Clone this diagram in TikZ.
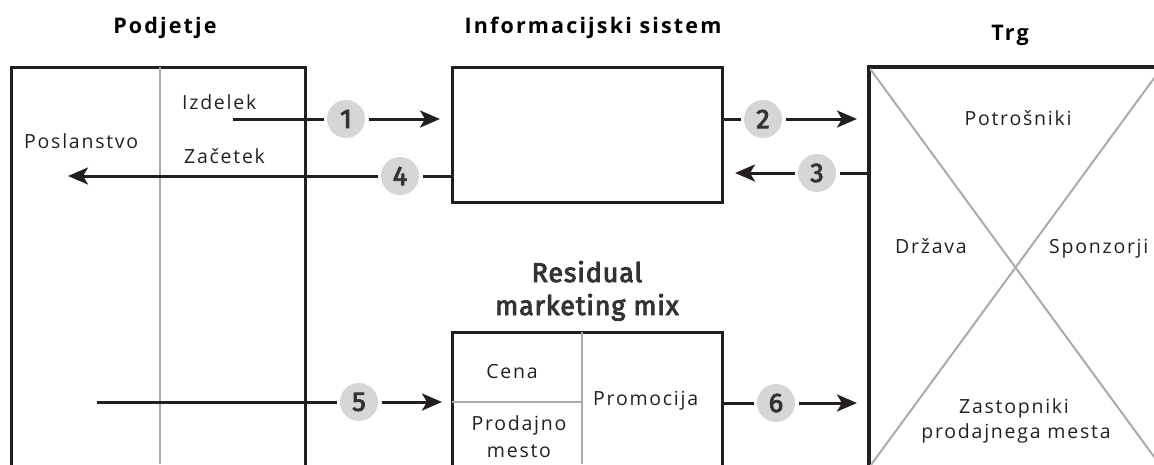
\documentclass[tikz,border=0pt]{standalone}
\usepackage{fontspec}
\usetikzlibrary{arrows.meta}
\newfontfamily\lblfont{Open Sans}[LetterSpace=9]
\newfontfamily\ttlfont{Open Sans}[LetterSpace=10]
\newfontfamily\firamed{Fira Sans}[FakeBold=3.2, LetterSpace=3]
\definecolor{ink}{HTML}{231F20}
\definecolor{divgray}{HTML}{ABABAB}
\definecolor{dotgray}{HTML}{D6D6D6}
\definecolor{numink}{HTML}{333333}
\tikzset{
  box/.style={draw=ink, line width=3pt, inner sep=0pt, anchor=north west},
  divider/.style={draw=divgray, line width=2pt},
  conn/.style={draw=ink, line width=3pt},
  arr/.style={conn, -{Stealth[length=20pt, width=17pt, inset=5pt]}},
  num/.style={circle, fill=dotgray, minimum size=38pt, inner sep=0pt, outer sep=3.5pt,
              text=numink, font=\firamed\fontsize{27}{27}\selectfont},
  lbl/.style={inner sep=0pt, text=ink, font=\lblfont\fontsize{19.5}{19.5}\selectfont},
  ttl/.style={inner sep=0pt, text=black, font=\ttlfont\bfseries\fontsize{21.5}{21.5}\selectfont},
  rmmttl/.style={inner sep=0pt, text=numink, font=\firamed\fontsize{27}{27}\selectfont},
}
\begin{document}
\begin{tikzpicture}[x=1pt, y=-1pt]
\useasboundingbox (0,0) rectangle (1154,464);
\clip (0,0) rectangle (1154,464);

% main blocks
\node[box, minimum width=294pt, minimum height=420pt] (podj) at (10,66) {};
\node[box, minimum width=270pt, minimum height=135pt] (info) at (451,66) {};
\node[box, minimum width=292pt, minimum height=400pt] (trg)  at (868,66) {};
\node[box, minimum width=270pt, minimum height=160pt] (rmm)  at (451,331) {};

% inner dividers
\draw[divider] (160,67) -- (160,464);
\draw[divider] (582,332) -- (582,464);
\draw[divider] (452,402) -- (582,402);
\draw[divider] (trg.north west) -- (trg.south east);
\draw[divider] (trg.north east) -- (trg.south west);
\draw[box] (trg.north west) rectangle (trg.south east);

% titles
\node[ttl, anchor=base] (tpodj) at (165,33) {Podjetje};
\node[ttl, anchor=base] (tinfo) at (593,33) {Informacijski sistem};
\node[ttl, anchor=base] (ttrg)  at (1010,40) {Trg};
\node[rmmttl, anchor=base] (trmm1) at (587,282) {Residual};
\node[rmmttl, anchor=base] (trmm2) at (587,315) {marketing mix};

% labels
\node[lbl, anchor=base west] (izd) at (182,109) {Izdelek};
\node[lbl, anchor=base west] (posl) at (24,148) {Poslanstvo};
\node[lbl, anchor=base west] (zac) at (184,163) {Začetek};
\node[lbl, anchor=base] (potr) at (1018,125) {Potrošniki};
\node[lbl, anchor=base west] (drz) at (895,253) {Država};
\node[lbl, anchor=base west] (spon) at (1049,253) {Sponzorji};
\node[lbl, anchor=base] (zast1) at (1014,413) {Zastopniki};
\node[lbl, anchor=base] (zast2) at (1016,438) {prodajnega mesta};
\node[lbl, anchor=base] (cena) at (512,378) {Cena};
\node[lbl, anchor=base] (prod1) at (519,430) {Prodajno};
\node[lbl, anchor=base] (prod2) at (519,457) {mesto};
\node[lbl, anchor=base west] (prom) at (593,405) {Promocija};

% numbered flows
\coordinate (e1) at (233,119);
\node[num] (n1) at (346,119) {1};
\draw[conn] (e1) -- (n1);
\draw[arr, shorten >=11pt] (n1) -- (info.west |- n1);

\node[num] (n2) at (763,119) {2};
\draw[conn] (info.east |- n2) -- (n2);
\draw[arr, shorten >=11pt] (n2) -- (trg.west |- n2);

\node[num] (n3) at (817,173) {3};
\draw[conn] (trg.west |- n3) -- (n3);
\draw[arr, shorten >=11pt] (n3) -- (info.east |- n3);

\coordinate (e4) at (68,176);
\node[num] (n4) at (400,176) {4};
\draw[conn] (info.west |- n4) -- (n4);
\draw[arr] (n4) -- (e4);

\coordinate (e5) at (97,402);
\node[num] (n5) at (359,402) {5};
\draw[conn] (e5) -- (n5);
\draw[arr, shorten >=9pt] (n5) -- (rmm.west |- n5);

\node[num] (n6) at (776,403) {6};
\draw[conn] (rmm.east |- n6) -- (n6);
\draw[arr, shorten >=11pt] (n6) -- (trg.west |- n6);
\end{tikzpicture}
\end{document}
